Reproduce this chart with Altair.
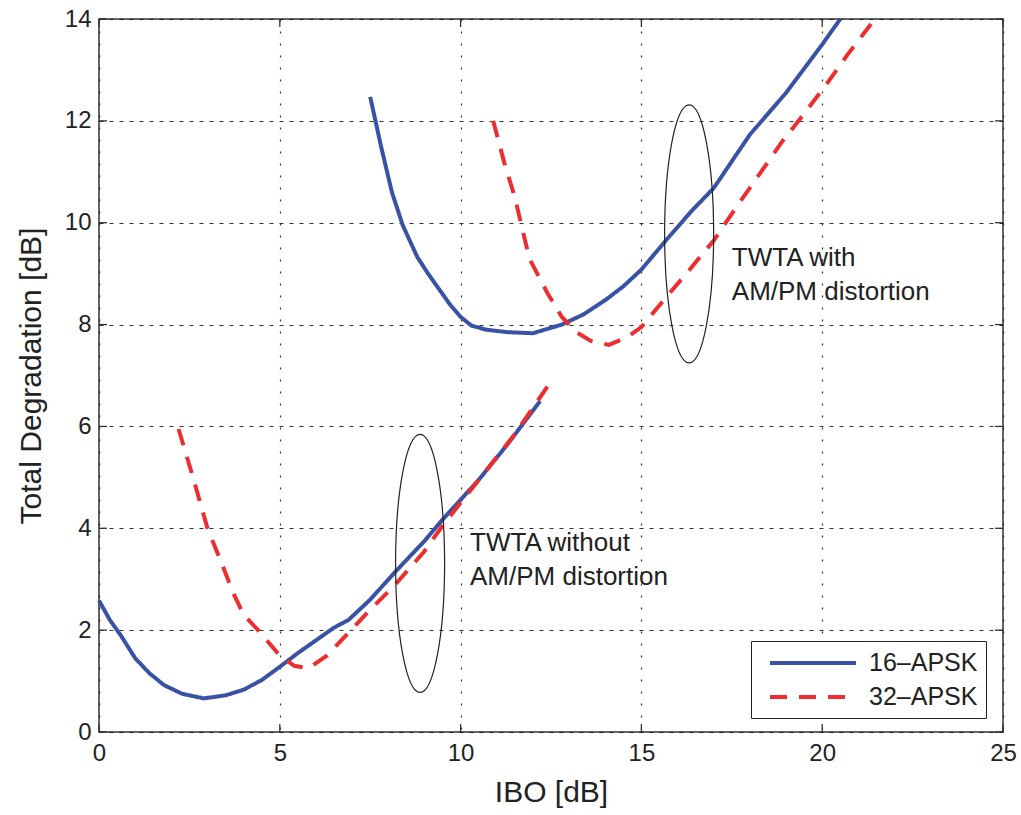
import altair as alt
import pandas as pd

FONT = "Liberation Sans"
W, H = 904, 713

# --- data ---
series_names = ["16\u2013APSK", "32\u2013APSK"]

# without AM/PM distortion
lo16_x = [0.0, 0.3, 0.6, 1.0, 1.4, 1.8, 2.3, 2.9, 3.5, 4.0, 4.5, 5.0, 5.5, 6.0, 6.5, 6.9, 7.5, 8.2, 9.0, 9.5, 10.5, 11.3, 12.2]
lo16_y = [2.58, 2.2, 1.9, 1.45, 1.15, 0.92, 0.75, 0.66, 0.72, 0.83, 1.02, 1.28, 1.55, 1.8, 2.05, 2.2, 2.6, 3.15, 3.75, 4.17, 4.95, 5.65, 6.5]
lo32_x = [2.2, 2.6, 3.0, 3.4, 3.7, 4.0, 4.4, 5.0, 5.4, 5.8, 6.3, 6.9, 7.5, 8.2, 9.0, 9.5, 10.5, 11.5, 12.4]
lo32_y = [5.95, 5.0, 4.0, 3.3, 2.75, 2.3, 2.0, 1.5, 1.3, 1.25, 1.5, 1.95, 2.4, 2.9, 3.55, 4.05, 4.95, 5.85, 6.78]

# with AM/PM distortion
up16_x = [7.5, 7.8, 8.1, 8.4, 8.8, 9.1, 9.4, 9.7, 10.0, 10.3, 10.7, 11.3, 12.0, 12.8, 13.4, 14.0, 14.5, 15.0, 15.7, 16.4, 17.0, 18.0, 19.0, 20.0, 20.5]
up16_y = [12.47, 11.5, 10.6, 9.95, 9.33, 9.0, 8.7, 8.4, 8.15, 7.98, 7.9, 7.85, 7.83, 8.0, 8.2, 8.48, 8.75, 9.08, 9.67, 10.24, 10.68, 11.73, 12.55, 13.5, 14.0]
up32_x = [10.9, 11.2, 11.5, 11.9, 12.4, 12.8, 13.2, 13.6, 14.1, 14.6, 15.0, 15.7, 16.3, 17.0, 17.6, 18.3, 18.9, 19.4, 20.1, 20.7, 21.35]
up32_y = [12.0, 11.2, 10.5, 9.3, 8.62, 8.15, 7.85, 7.68, 7.6, 7.75, 7.95, 8.55, 9.05, 9.65, 10.28, 10.99, 11.6, 12.05, 12.7, 13.3, 13.9]

x_ticks = [0, 5, 10, 15, 20, 25]
y_ticks = [0, 2, 4, 6, 8, 10, 12, 14]

ellipse_x = [8.88, 16.32]
ellipse_y = [3.31, 9.78]

note_text = ["TWTA without", "AM/PM distortion", "TWTA with", "AM/PM distortion"]
note_x = [10.26, 10.26, 17.5, 17.5]
note_y = [3.71, 3.04, 9.31, 8.64]

# --- tables ---
rows = []
for name, grp, xs, ys in [
    (series_names[0], "lo16", lo16_x, lo16_y),
    (series_names[1], "lo32", lo32_x, lo32_y),
    (series_names[0], "up16", up16_x, up16_y),
    (series_names[1], "up32", up32_x, up32_y),
]:
    for xv, yv in zip(xs, ys):
        rows.append({"x": xv, "y": yv, "mod": name, "grp": grp})
lines_df = pd.DataFrame(rows)

xscale = alt.Scale(domain=[0, 25], nice=False, zero=False)
yscale = alt.Scale(domain=[0, 14], nice=False, zero=False)

legend = alt.Legend(
    title=None, orient="none", legendX=652, legendY=622,
    symbolType="M -0.25,0 L 6.917,0", symbolSize=576, symbolStrokeWidth=4,
    labelFontSize=25, labelFont=FONT, labelColor="#222",
    padding=8, rowPadding=7, labelOffset=82,
    strokeColor="#222", fillColor="white",
)

lines = alt.Chart(lines_df).mark_line(strokeWidth=4).encode(
    x=alt.X("x:Q", scale=xscale,
            axis=alt.Axis(values=x_ticks, title="IBO [dB]", grid=True,
                          gridDash=[2, 10], ticks=False, labelFlush=False)),
    y=alt.Y("y:Q", scale=yscale,
            axis=alt.Axis(values=y_ticks, title="Total Degradation [dB]", grid=True,
                          gridDash=[4, 6], ticks=False, labelFlush=False)),
    color=alt.Color("mod:N", scale=alt.Scale(domain=series_names, range=["#3A52A6", "#EE2E2E"]),
                    legend=legend),
    strokeDash=alt.StrokeDash("mod:N", scale=alt.Scale(domain=series_names, range=[[1, 0], [17, 12]]),
                              legend=legend),
    detail="grp:N",
    order="x:Q",
)

ell_df = pd.DataFrame({"x": ellipse_x, "y": ellipse_y})
ellipse_path = "M -0.19,0 A 0.19,1 0 1,1 0.19,0 A 0.19,1 0 1,1 -0.19,0 Z"
ellipses = alt.Chart(ell_df).mark_point(
    shape=ellipse_path, size=66564, filled=False, stroke="#222", strokeWidth=1.2, opacity=1
).encode(x=alt.X("x:Q", scale=xscale), y=alt.Y("y:Q", scale=yscale))

notes_df = pd.DataFrame({"t": note_text, "x": note_x, "y": note_y})
notes = alt.Chart(notes_df).mark_text(
    align="left", baseline="middle", font=FONT, fontSize=26, color="#222"
).encode(x=alt.X("x:Q", scale=xscale), y=alt.Y("y:Q", scale=yscale), text="t:N")

xt_df = pd.DataFrame({"v": x_ticks})
yt_df = pd.DataFrame({"v": y_ticks})
tb = alt.Chart(xt_df).mark_rule(color="#333", strokeWidth=1.3).encode(
    x=alt.X("v:Q", scale=xscale), y=alt.value(H), y2=alt.value(H - 8))
tt = alt.Chart(xt_df).mark_rule(color="#333", strokeWidth=1.3).encode(
    x=alt.X("v:Q", scale=xscale), y=alt.value(0), y2=alt.value(8))
tl = alt.Chart(yt_df).mark_rule(color="#333", strokeWidth=1.3).encode(
    y=alt.Y("v:Q", scale=yscale), x=alt.value(0), x2=alt.value(8))
tr = alt.Chart(yt_df).mark_rule(color="#333", strokeWidth=1.3).encode(
    y=alt.Y("v:Q", scale=yscale), x=alt.value(W), x2=alt.value(W - 8))

chart = alt.layer(lines, ellipses, notes, tb, tt, tl, tr).properties(
    width=W, height=H,
    autosize=alt.AutoSizeParams(type="none"),
    padding={"left": 99, "top": 19, "right": 18, "bottom": 83},
).configure_view(
    stroke="#333", strokeWidth=1.5
).configure_axis(
    domain=False,
    gridColor="#111", gridOpacity=0.85, gridWidth=1.2,
    labelFont=FONT, labelFontSize=24, labelColor="#222",
    titleFont=FONT, titleFontSize=30, titleFontWeight="normal", titleColor="#222",
).configure_axisX(
    labelPadding=9, titlePadding=12,
).configure_axisY(
    labelPadding=8, titlePadding=18,
)

chart.save("out.html", embed_options={"renderer": "svg", "actions": False})
